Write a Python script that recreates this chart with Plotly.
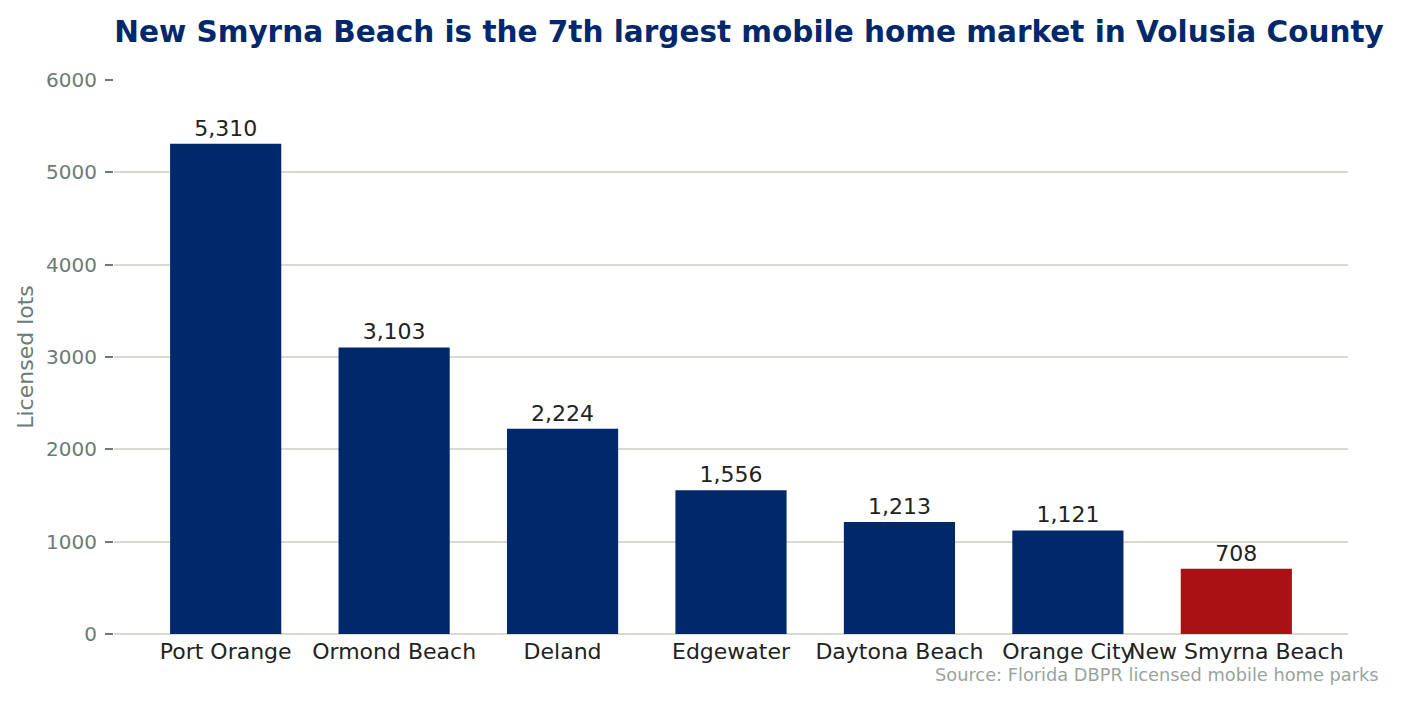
import plotly.graph_objects as go

cities = ["Port Orange", "Ormond Beach", "Deland", "Edgewater", "Daytona Beach", "Orange City", "New Smyrna Beach"]
lots = [5310, 3103, 2224, 1556, 1213, 1121, 708]
highlight = "New Smyrna Beach"
y_ticks = [0, 1000, 2000, 3000, 4000, 5000, 6000]

NAVY = "#01286A"
RED = "#A91115"
colors = [RED if c == highlight else NAVY for c in cities]
labels = [f"{v:,}" for v in lots]

fig = go.Figure(go.Bar(
    x=list(range(len(cities))), y=lots, width=0.66,
    marker=dict(color=colors, line=dict(width=0)),
    text=labels, textposition="outside", cliponaxis=False,
    textfont=dict(family="DejaVu Sans", size=22, color="#222222"),
))

W, H = 1385, 685
fig.update_layout(
    width=W, height=H,
    margin=dict(l=106, r=45, t=72, b=59),
    plot_bgcolor="white", paper_bgcolor="white",
    font=dict(family="DejaVu Sans"),
    showlegend=False,
    title=dict(text="<b>New Smyrna Beach is the 7th largest mobile home market in Volusia County</b>",
               x=0.535, xanchor="center", y=0.966, yanchor="middle",
               font=dict(size=29.5, color=NAVY, family="DejaVu Sans")),
    xaxis=dict(range=[-0.663, 6.663], tickmode="array", tickvals=list(range(len(cities))),
               ticktext=cities, showgrid=False, zeroline=False, showline=False,
               tickangle=0, automargin=False, ticklabelstandoff=2,
               tickfont=dict(size=22, color="#222222"), ticks="", ticklen=0),
    yaxis=dict(range=[0, 6000], tickvals=y_ticks, ticktext=[str(t) for t in y_ticks],
               automargin=False, ticklabelstandoff=4,
               showgrid=True, gridcolor="#DAD8D3", gridwidth=1.6,
               zeroline=True, zerolinecolor="#DAD8D3", zerolinewidth=1.6,
               showline=False, ticks="outside", ticklen=8, tickcolor="#6B7B77", tickwidth=2,
               tickfont=dict(size=20, color="#6B7B77"),
               title=dict(text="Licensed lots", font=dict(size=22, color="#6B7B77"), standoff=6)),
    annotations=[dict(text="Source: Florida DBPR licensed mobile home parks",
                      xref="paper", yref="paper", x=1.0265, y=-0.074, xanchor="right", yanchor="middle",
                      showarrow=False, font=dict(size=17.8, color="#9AA3A0", family="DejaVu Sans"))],
    bargap=0.34,
)

fig.write_html("out.html")
